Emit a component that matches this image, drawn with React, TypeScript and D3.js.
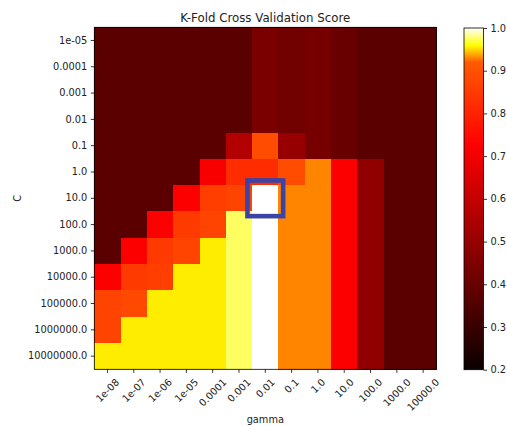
import React, { useEffect, useRef } from "react";
import * as d3 from "d3";

// Grid axes
const gammaLabels = ["1e-08", "1e-07", "1e-06", "1e-05", "0.0001", "0.001", "0.01", "0.1", "1.0", "10.0", "100.0", "1000.0", "10000.0"];
const cLabels = ["1e-05", "0.0001", "0.001", "0.01", "0.1", "1.0", "10.0", "100.0", "1000.0", "10000.0", "100000.0", "1000000.0", "10000000.0"];

// Mean cross-validation score: one row per C, one column per gamma
const scores: number[][] = [
  [0.37, 0.37, 0.37, 0.37, 0.37, 0.37, 0.44, 0.42, 0.43, 0.40, 0.37, 0.37, 0.37],
  [0.37, 0.37, 0.37, 0.37, 0.37, 0.37, 0.44, 0.42, 0.43, 0.40, 0.37, 0.37, 0.37],
  [0.37, 0.37, 0.37, 0.37, 0.37, 0.37, 0.44, 0.42, 0.43, 0.40, 0.37, 0.37, 0.37],
  [0.37, 0.37, 0.37, 0.37, 0.37, 0.37, 0.44, 0.42, 0.43, 0.40, 0.37, 0.37, 0.37],
  [0.37, 0.37, 0.37, 0.37, 0.37, 0.56, 0.89, 0.50, 0.43, 0.40, 0.37, 0.37, 0.37],
  [0.37, 0.37, 0.37, 0.37, 0.71, 0.82, 0.82, 0.89, 0.93, 0.72, 0.49, 0.37, 0.37],
  [0.37, 0.37, 0.37, 0.72, 0.86, 0.87, 1.00, 0.93, 0.93, 0.72, 0.49, 0.37, 0.37],
  [0.37, 0.37, 0.72, 0.85, 0.87, 0.975, 1.00, 0.93, 0.93, 0.72, 0.49, 0.37, 0.37],
  [0.37, 0.72, 0.85, 0.87, 0.955, 0.975, 1.00, 0.93, 0.93, 0.72, 0.49, 0.37, 0.37],
  [0.72, 0.85, 0.86, 0.955, 0.955, 0.975, 1.00, 0.93, 0.93, 0.72, 0.49, 0.37, 0.37],
  [0.87, 0.88, 0.955, 0.955, 0.955, 0.975, 1.00, 0.93, 0.93, 0.72, 0.49, 0.37, 0.37],
  [0.87, 0.955, 0.955, 0.955, 0.955, 0.975, 1.00, 0.93, 0.93, 0.72, 0.49, 0.37, 0.37],
  [0.955, 0.955, 0.955, 0.955, 0.955, 0.975, 1.00, 0.93, 0.93, 0.72, 0.49, 0.37, 0.37],
];

const colorbarTicks = [0.2, 0.3, 0.4, 0.5, 0.6, 0.7, 0.8, 0.9, 1.0];

// Selected parameter pair
const bestC = "10.0";
const bestGamma = "0.01";

const W = 507;
const H = 426;
const plot = { left: 94.3, top: 27.3, right: 436.3, bottom: 369.3 };
const bar = { left: 464, right: 483.5, top: 28, bottom: 369.7 };
const FONT = "DejaVu Sans, sans-serif";
const FS = 9.8;
const TEXT = "#222";

// matplotlib "hot" colormap
function hot(t: number): string {
  const c = (v: number) => Math.max(0, Math.min(1, v));
  const r = 0.0416 + (1 - 0.0416) * c(t / 0.365079);
  const g = c((t - 0.365079) / (0.746032 - 0.365079));
  const b = c((t - 0.746032) / (1 - 0.746032));
  return d3.rgb(r * 255, g * 255, b * 255).formatHex();
}

// Normalisation with a midpoint at 0.92
const norm = d3.scaleLinear().domain([0.2, 0.92, 1.0]).range([0, 0.5, 1]).clamp(true);
const colorOf = (v: number) => hot(norm(v));

export default function App() {
  const ref = useRef<SVGSVGElement>(null);

  useEffect(() => {
    const svg = d3.select(ref.current);
    svg.selectAll("*").remove();

    const x = d3.scaleBand().domain(gammaLabels).range([plot.left, plot.right]).padding(0);
    const y = d3.scaleBand().domain(cLabels).range([plot.top, plot.bottom]).padding(0);

    // Heatmap cells
    const cells = scores.flatMap((row, i) => row.map((v, j) => ({ c: cLabels[i], g: gammaLabels[j], v })));
    svg.append("g")
      .attr("shape-rendering", "crispEdges")
      .selectAll("rect")
      .data(cells)
      .join("rect")
      .attr("x", (d) => x(d.g)!)
      .attr("y", (d) => y(d.c)!)
      .attr("width", x.bandwidth() + 0.5)
      .attr("height", y.bandwidth() + 0.5)
      .attr("fill", (d) => colorOf(d.v));

    // Frame
    svg.append("rect")
      .attr("x", plot.left).attr("y", plot.top)
      .attr("width", plot.right - plot.left).attr("height", plot.bottom - plot.top)
      .attr("fill", "none").attr("stroke", "#000").attr("stroke-width", 0.8);

    // Highlight box
    const pad = 4.7;
    svg.append("rect")
      .attr("x", x(bestGamma)! - pad)
      .attr("y", y(bestC)! - pad)
      .attr("width", x.bandwidth() + 2 * pad)
      .attr("height", y.bandwidth() + 2 * pad)
      .attr("fill", "none")
      .attr("stroke", "#3a43a6")
      .attr("stroke-width", 4.6);

    const styleAxis = (g: d3.Selection<SVGGElement, unknown, null, undefined>) => {
      g.select(".domain").remove();
      g.selectAll(".tick line").attr("stroke", "#000").attr("stroke-width", 0.8);
      g.selectAll(".tick text").attr("fill", TEXT).style("font-family", FONT).style("font-size", `${FS}px`);
    };

    // Left axis
    const yAxis = svg.append("g")
      .attr("transform", `translate(${plot.left},0)`)
      .call(d3.axisLeft(y).tickSize(3.5).tickPadding(3.5).tickSizeOuter(0));
    styleAxis(yAxis);

    // Bottom axis with rotated labels
    const xAxis = svg.append("g")
      .attr("transform", `translate(0,${plot.bottom})`)
      .call(d3.axisBottom(x).tickSize(3.5).tickPadding(3.5).tickSizeOuter(0));
    styleAxis(xAxis);
    const lh = FS * 1.17;
    xAxis.selectAll<SVGTextElement, string>(".tick text").each(function () {
      const w = this.getComputedTextLength();
      const cy = 7 + (w + lh) / (2 * Math.SQRT2);
      d3.select(this)
        .attr("x", 0).attr("y", 0).attr("dy", null)
        .attr("text-anchor", "middle")
        .attr("dominant-baseline", "central")
        .attr("transform", `translate(0,${cy}) rotate(-45)`);
    });

    // Titles
    svg.append("text")
      .attr("x", (plot.left + plot.right) / 2).attr("y", 21.5)
      .attr("text-anchor", "middle")
      .attr("fill", TEXT).style("font-family", FONT).style("font-size", "11.8px")
      .text("K-Fold Cross Validation Score");
    svg.append("text")
      .attr("x", (plot.left + plot.right) / 2).attr("y", 423)
      .attr("text-anchor", "middle")
      .attr("fill", TEXT).style("font-family", FONT).style("font-size", `${FS}px`)
      .text("gamma");
    svg.append("text")
      .attr("transform", `translate(17,${(plot.top + plot.bottom) / 2}) rotate(-90)`)
      .attr("text-anchor", "middle").attr("dominant-baseline", "central")
      .attr("fill", TEXT).style("font-family", FONT).style("font-size", `${FS}px`)
      .text("C");

    // Colorbar
    const cb = d3.scaleLinear().domain([0.2, 1.0]).range([bar.bottom, bar.top]);
    const grad = svg.append("defs").append("linearGradient")
      .attr("id", "cbgrad").attr("x1", 0).attr("y1", 1).attr("x2", 0).attr("y2", 0);
    const stops = d3.range(0, 201).map((k) => 0.2 + (0.8 * k) / 200);
    grad.selectAll("stop").data(stops).join("stop")
      .attr("offset", (v) => (v - 0.2) / 0.8)
      .attr("stop-color", (v) => colorOf(v));
    svg.append("rect")
      .attr("x", bar.left).attr("y", bar.top)
      .attr("width", bar.right - bar.left).attr("height", bar.bottom - bar.top)
      .attr("fill", "url(#cbgrad)")
      .attr("stroke", "#000").attr("stroke-width", 0.8);
    const cAxis = svg.append("g")
      .attr("transform", `translate(${bar.right},0)`)
      .call(d3.axisRight(cb).tickValues(colorbarTicks).tickFormat(d3.format(".1f")).tickSize(3.5).tickPadding(3.5).tickSizeOuter(0));
    styleAxis(cAxis);
  }, []);

  return <svg ref={ref} width={W} height={H} style={{ display: "block", position: "absolute", left: 0, top: 0 }} />;
}
